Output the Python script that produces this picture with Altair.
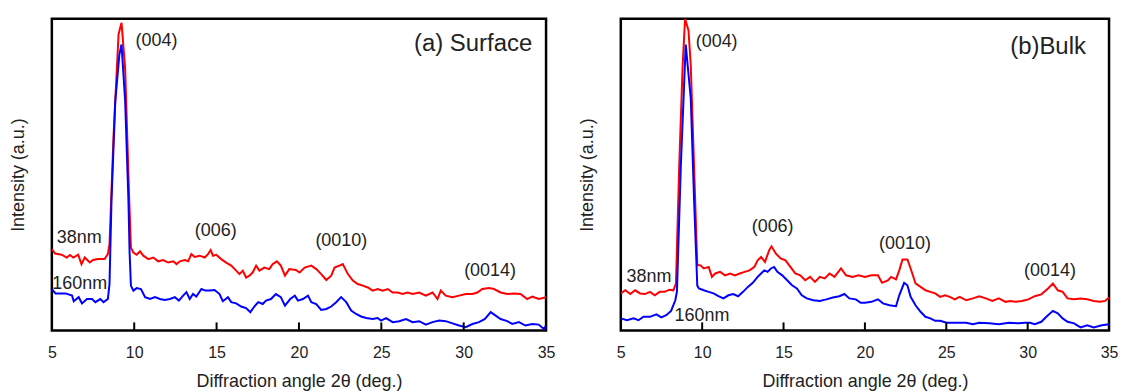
import altair as alt
import pandas as pd

FONT = "Liberation Sans"

# ---------------- (a) Surface ----------------
surf_x_38 = [5.0, 5.2, 5.6, 5.9, 6.1, 6.3, 6.6, 6.8, 7.0, 7.3, 7.5, 7.8, 8.2, 8.4, 8.5, 8.75, 9.05, 9.23, 9.45, 9.7,
             9.8, 9.95, 10.15, 10.35, 10.55, 10.86, 11.16, 11.46, 11.76, 12.06, 12.37, 12.57, 12.77, 13.07, 13.27,
             13.47, 13.67, 13.97, 14.28, 14.48, 14.64, 14.78, 14.98, 15.28, 15.58, 15.89, 16.19, 16.39, 16.59,
             16.79, 16.99, 17.19, 17.4, 17.6, 17.9, 18.2, 18.4, 18.66, 18.9, 19.15, 19.41, 19.81, 20.04, 20.35,
             20.75, 21.05, 21.35, 21.66, 21.96, 22.16, 22.46, 22.66, 22.97, 23.27, 23.57, 23.87, 24.18, 24.48,
             24.78, 25.08, 25.39, 25.69, 25.99, 26.29, 26.6, 26.9, 27.3, 27.7, 28.11, 28.41, 28.61, 28.91, 29.32,
             29.72, 30.12, 30.53, 30.83, 31.13, 31.54, 31.84, 32.24, 32.64, 33.05, 33.45, 33.85, 34.16, 34.56, 35.0]
surf_y_38 = [26.1, 24.7, 24.3, 23.4, 24.2, 23.4, 24.3, 21.3, 23.4, 21.8, 22.6, 22.9, 22.9, 24.5, 27.7, 63.0, 95.0, 98.7,
             84.0, 41.5, 26.6, 25.0, 24.3, 25.4, 24.0, 22.9, 23.4, 22.2, 22.6, 21.8, 22.2, 21.3, 22.2, 22.6, 22.2,
             24.5, 23.6, 24.0, 23.4, 24.5, 25.8, 24.0, 24.3, 22.9, 21.8, 20.8, 19.2, 18.1, 19.2, 17.0, 17.6, 18.6,
             20.8, 19.2, 20.2, 19.7, 21.3, 22.2, 20.8, 17.6, 19.7, 19.4, 18.6, 20.2, 20.8, 19.7, 18.1, 16.2, 17.6,
             20.2, 20.8, 21.3, 18.1, 16.0, 14.9, 14.4, 13.8, 12.8, 13.3, 12.8, 13.3, 12.2, 12.2, 11.7, 12.2, 11.7,
             12.2, 11.2, 12.2, 10.1, 12.8, 11.2, 10.7, 11.2, 11.7, 11.7, 12.2, 13.3, 13.6, 13.3, 12.2, 11.7, 11.9,
             11.7, 10.1, 10.9, 10.1, 10.7]
surf_x_160 = [5.0, 5.22, 5.83, 6.23, 6.33, 6.63, 6.83, 7.13, 7.44, 7.64, 7.94, 8.14, 8.4, 8.5, 8.62, 8.85, 9.1, 9.23,
              9.45, 9.65, 9.72, 9.8, 9.95, 10.15, 10.41, 10.66, 10.96, 11.26, 11.56, 11.86, 12.17, 12.47, 12.71,
              12.97, 13.17, 13.37, 13.57, 13.77, 14.08, 14.32, 14.58, 14.88, 15.18, 15.38, 15.69, 15.89, 16.19,
              16.49, 16.79, 17.05, 17.29, 17.53, 17.8, 18.0, 18.3, 18.6, 18.9, 19.15, 19.47, 19.75, 19.94, 20.24,
              20.55, 20.75, 21.05, 21.35, 21.66, 21.96, 22.26, 22.56, 22.87, 23.17, 23.47, 23.77, 24.08, 24.48,
              24.78, 24.98, 25.29, 25.69, 26.09, 26.5, 26.9, 27.3, 27.7, 28.11, 28.51, 28.91, 29.32, 29.72, 30.12,
              30.53, 30.93, 31.29, 31.64, 31.94, 32.24, 32.64, 32.95, 33.35, 33.75, 34.16, 34.56, 34.86, 35.0]
surf_y_160 = [13.3, 11.9, 11.9, 11.2, 9.4, 10.7, 8.7, 10.1, 10.1, 9.1, 10.1, 9.1, 10.1, 14.9, 41.5, 73.5, 88.5, 91.7,
              73.5, 41.5, 25.0, 14.4, 12.8, 13.6, 13.3, 10.7, 10.1, 10.7, 10.1, 9.8, 10.1, 10.7, 9.6, 11.2, 12.3,
              10.1, 11.7, 10.9, 13.3, 12.8, 12.8, 13.0, 11.7, 9.4, 10.7, 9.1, 8.7, 7.7, 7.2, 5.9, 7.7, 9.1, 8.5, 9.6,
              10.1, 11.7, 10.7, 8.0, 10.1, 11.2, 9.6, 10.1, 11.2, 9.1, 8.5, 6.6, 6.9, 7.7, 9.1, 10.7, 9.1, 6.4, 5.3,
              4.5, 4.0, 3.7, 4.0, 3.2, 4.0, 2.7, 3.0, 3.7, 2.7, 3.0, 1.9, 2.7, 3.2, 3.0, 2.3, 1.6, 1.1, 2.1, 2.7, 3.7,
              5.9, 4.8, 3.7, 3.0, 2.1, 2.7, 1.6, 2.1, 1.9, 0.5, 1.6]
surf_ann_text = ["(004)", "(006)", "(0010)", "(0014)", "38nm", "160nm"]
surf_ann_x = [11.35, 14.95, 22.57, 31.6, 6.66, 6.69]
surf_ann_y = [92.7, 32.0, 28.8, 19.2, 29.7, 15.0]
surf_title, surf_title_x, surf_title_y = "(a) Surface", 34.16, 92.0

# ---------------- (b) Bulk ----------------
bulk_x_38 = [5.0, 5.28, 5.58, 5.88, 6.19, 6.49, 6.79, 7.09, 7.39, 7.69, 7.99, 8.23, 8.39, 8.59, 8.8, 8.95, 9.16, 9.3,
             9.5, 9.7, 9.9, 10.1, 10.4, 10.6, 10.8, 11.1, 11.41, 11.71, 12.01, 12.31, 12.61, 12.91, 13.21, 13.41,
             13.62, 13.86, 14.12, 14.26, 14.52, 14.82, 15.12, 15.42, 15.72, 16.03, 16.33, 16.63, 16.93, 17.23,
             17.53, 17.83, 18.13, 18.53, 18.84, 19.24, 19.6, 20.0, 20.4, 20.8, 21.05, 21.41, 21.61, 21.91, 22.11,
             22.31, 22.61, 22.81, 23.11, 23.42, 23.72, 24.02, 24.32, 24.62, 24.92, 25.22, 25.52, 25.82, 26.23,
             26.63, 27.03, 27.43, 27.83, 28.23, 28.64, 28.94, 29.24, 29.64, 30.04, 30.44, 30.84, 31.25, 31.55,
             31.85, 32.15, 32.45, 32.85, 33.25, 33.66, 34.06, 34.46, 34.76, 35.0]
bulk_y_38 = [11.9, 12.9, 11.7, 12.9, 11.9, 11.7, 12.4, 11.3, 12.4, 12.4, 13.1, 12.9, 15.1, 52.9, 84.9, 100.0, 96.2,
             85.0, 53.0, 21.0, 20.9, 19.9, 20.4, 17.2, 18.3, 18.8, 17.7, 18.3, 17.7, 18.3, 18.8, 19.3, 20.4, 22.5,
             23.6, 22.0, 25.8, 27.0, 24.7, 23.1, 22.5, 20.4, 18.3, 17.7, 16.1, 17.2, 15.6, 17.2, 16.7, 18.3, 17.2,
             19.9, 17.7, 17.2, 17.7, 17.2, 17.7, 17.7, 15.3, 16.1, 17.2, 16.4, 19.3, 22.8, 22.8, 19.9, 15.1, 14.0,
             12.9, 12.4, 11.9, 10.8, 11.3, 10.8, 10.0, 10.8, 9.7, 10.3, 11.0, 10.3, 9.5, 10.3, 9.2, 9.5, 9.2, 9.5,
             10.0, 11.0, 11.6, 13.5, 15.1, 12.9, 12.4, 10.3, 10.0, 10.3, 10.0, 9.5, 9.2, 9.5, 10.6]
bulk_x_160 = [5.0, 5.38, 5.78, 6.09, 6.39, 6.79, 7.19, 7.49, 7.79, 8.09, 8.35, 8.45, 8.69, 8.99, 9.3, 9.5, 9.7, 9.8,
              10.1, 10.4, 10.7, 11.0, 11.31, 11.61, 11.91, 12.21, 12.51, 12.81, 13.11, 13.41, 13.62, 13.82, 14.02,
              14.22, 14.42, 14.62, 14.92, 15.22, 15.52, 15.82, 16.12, 16.43, 16.83, 17.23, 17.63, 18.03, 18.43,
              18.74, 19.04, 19.44, 19.74, 20.0, 20.4, 20.8, 21.11, 21.51, 21.91, 22.11, 22.41, 22.61, 22.81, 23.11,
              23.42, 23.72, 24.02, 24.32, 24.62, 25.02, 25.62, 26.23, 26.63, 27.03, 27.63, 28.23, 28.84, 29.44,
              29.84, 30.14, 30.44, 30.84, 31.15, 31.55, 31.85, 32.15, 32.45, 32.85, 33.25, 33.66, 34.06, 34.56, 35.0]
bulk_y_160 = [3.9, 3.3, 3.9, 3.3, 4.4, 4.4, 5.2, 4.2, 4.9, 6.3, 9.7, 12.5, 52.9, 91.7, 74.4, 42.3, 14.4, 13.5, 12.9,
              12.4, 11.9, 11.0, 10.3, 11.3, 11.7, 11.0, 12.4, 14.0, 15.3, 17.2, 18.3, 19.3, 18.8, 19.9, 20.4, 18.8,
              17.7, 16.1, 14.5, 13.5, 11.3, 10.3, 9.7, 9.5, 10.0, 10.6, 11.0, 11.7, 10.3, 10.0, 8.9, 8.9, 9.2, 10.0,
              8.7, 8.1, 7.8, 11.3, 15.3, 14.5, 10.8, 8.1, 6.0, 4.4, 3.9, 3.1, 3.1, 2.5, 2.5, 2.5, 2.0, 2.5, 2.3, 2.0,
              2.5, 2.3, 2.5, 2.5, 2.0, 2.8, 4.4, 6.3, 5.5, 3.9, 2.8, 2.3, 1.0, 1.7, 1.0, 1.7, 2.0]
bulk_ann_text = ["(004)", "(006)", "(0010)", "(0014)", "38nm", "160nm"]
bulk_ann_x = [10.89, 14.33, 22.46, 31.37, 6.73, 9.99]
bulk_ann_y = [92.6, 33.3, 27.9, 19.2, 17.3, 4.8]
bulk_title, bulk_title_x, bulk_title_y = "(b)Bulk", 33.58, 91.0

tick_values = [10, 15, 20, 25, 30]
axis_values = [5, 10, 15, 20, 25, 30, 35]
series_names = ["38nm", "160nm"]
series_colors = ["#ff0000", "#0000ff"]

X_TITLE = "Diffraction angle 2θ (deg.)"
Y_TITLE = "Intensity (a.u.)"

XSCALE = alt.Scale(domain=[5, 35], nice=False, zero=False)
YSCALE = alt.Scale(domain=[0, 100], nice=False, zero=False)
XAXIS = alt.Axis(values=axis_values, title=X_TITLE, ticks=False, domain=False, grid=False,
                 labelFlush=False, labelPadding=14, titlePadding=12)
YAXIS = alt.Axis(title=Y_TITLE, labels=False, ticks=False, domain=False, grid=False, titlePadding=24)


def xenc():
    return alt.X("angle:Q", scale=XSCALE, axis=XAXIS, title=X_TITLE)


def yenc():
    return alt.Y("intensity:Q", scale=YSCALE, axis=YAXIS, title=Y_TITLE)


def panel(x38, y38, x160, y160, ann_text, ann_x, ann_y, title, tx, ty, width, height):
    df = pd.concat([
        pd.DataFrame({"angle": x38, "intensity": y38, "series": "38nm"}),
        pd.DataFrame({"angle": x160, "intensity": y160, "series": "160nm"}),
    ])
    lines = alt.Chart(df).mark_line(strokeWidth=2, clip=True).encode(
        x=xenc(), y=yenc(),
        color=alt.Color("series:N", scale=alt.Scale(domain=series_names, range=series_colors), legend=None),
        detail="series:N",
    )
    ann_df = pd.DataFrame({"angle": ann_x, "intensity": ann_y, "t": ann_text})
    ann = alt.Chart(ann_df).mark_text(fontSize=18, font=FONT, color="#222222", align="center",
                                      baseline="middle").encode(x=xenc(), y=yenc(), text="t:N")
    tdf = pd.DataFrame({"angle": [tx], "intensity": [ty], "t": [title]})
    ttl = alt.Chart(tdf).mark_text(fontSize=24, font=FONT, color="#222222", align="right",
                                   baseline="middle").encode(x=xenc(), y=yenc(), text="t:N")
    tk = pd.DataFrame({"angle": tick_values, "intensity": [0] * len(tick_values),
                       "top": [2.6] * len(tick_values)})
    ticks = alt.Chart(tk).mark_rule(color="black", strokeWidth=2).encode(
        x=xenc(), y=yenc(), y2="top:Q")
    return alt.layer(lines, ann, ttl, ticks).properties(width=width, height=height)


left = panel(surf_x_38, surf_y_38, surf_x_160, surf_y_160, surf_ann_text, surf_ann_x, surf_ann_y,
             surf_title, surf_title_x, surf_title_y, 496, 313)
right = panel(bulk_x_38, bulk_y_38, bulk_x_160, bulk_y_160, bulk_ann_text, bulk_ann_x, bulk_ann_y,
              bulk_title, bulk_title_x, bulk_title_y, 490, 313)

chart = alt.hconcat(left, right, spacing=75, bounds="flush").properties(
    padding={"left": 0, "top": 8, "right": 0, "bottom": 0}
).configure_view(stroke="black", strokeWidth=2.5).configure_axis(
    labelFont=FONT, titleFont=FONT, labelFontSize=16, titleFontSize=18, titleFontWeight="normal",
    labelColor="#222222", titleColor="#222222"
)

chart.save("out.html", embed_options={"renderer": "svg", "actions": False})
